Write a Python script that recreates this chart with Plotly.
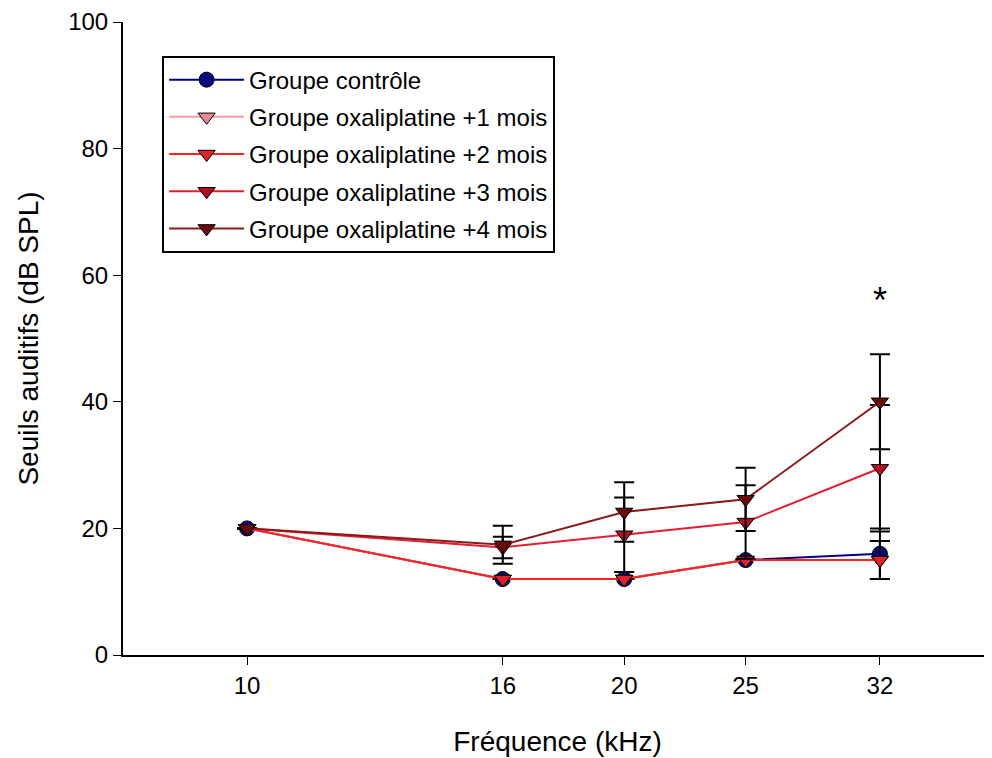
import numpy as np
import plotly.graph_objects as go

# fréquences (kHz)
frequences = [10, 16, 20, 25, 32]

# seuils moyens (dB SPL)
controle = [20, 12, 12, 15, 16]
oxa_1 = [20, 12, 12, 15, 15]
oxa_2 = [20, 12, 12, 15, 15]
oxa_3 = [20, 17, 19, 21, 29.5]
oxa_4 = [20, 17.4, 22.6, 24.6, 40]

# erreurs
err_controle = [0, 0, 0, 0, 4]
err_oxa_1 = [0, 0, 0, 0, 3]
err_oxa_2 = [0, 0, 0, 0, 3]
err_oxa_3 = [0, 1.7, 5.9, 5.8, 10]
err_oxa_4 = [0, 3, 4.7, 5, 7.5]

series = [
    ('Groupe contrôle', controle, err_controle, '#00007a', '#0a0a80', 'circle'),
    ('Groupe oxaliplatine +1 mois', oxa_1, err_oxa_1, '#ff9aa0', '#e88a90', 'triangle-down'),
    ('Groupe oxaliplatine +2 mois', oxa_2, err_oxa_2, '#ff2020', '#e0202a', 'triangle-down'),
    ('Groupe oxaliplatine +3 mois', oxa_3, err_oxa_3, '#e02030', '#b01020', 'triangle-down'),
    ('Groupe oxaliplatine +4 mois', oxa_4, err_oxa_4, '#8a1a1a', '#6a0a0a', 'triangle-down'),
]

fig = go.Figure()

for i, (nom, y, err, c_ligne, c_marq, symb) in enumerate(series):
    fig.add_trace(go.Scatter(
        x=frequences, y=y, name=nom, mode='lines+markers',
        legendgroup=str(i),
        line=dict(color=c_ligne, width=2),
        marker=dict(symbol=symb, size=15, color=c_marq,
                    line=dict(color='black', width=1)),
        error_y=dict(type='data', array=err, visible=True,
                     color='black', thickness=2, width=10),
    ))

# astérisque de significativité
fig.add_annotation(x=np.log10(32), y=56, text='*', showarrow=False,
                   font=dict(size=36, color='black'))

police = 'Liberation Sans, Arial, sans-serif'

fig.update_xaxes(
    type='log', range=[0.901, 1.5946],
    tickvals=frequences, ticktext=[str(f) for f in frequences],
    showline=True, linecolor='black', linewidth=2,
    ticks='outside', ticklen=8, tickcolor='black', tickwidth=1,
    showgrid=False, zeroline=False,
    tickfont=dict(size=24, color='black', family=police),
    title=dict(text='Fréquence (kHz)', font=dict(size=28, color='black', family=police),
               standoff=34),
)
fig.update_yaxes(
    range=[0, 100], tickvals=[0, 20, 40, 60, 80, 100],
    showline=True, linecolor='black', linewidth=2,
    ticks='outside', ticklen=8, tickcolor='black', tickwidth=1,
    showgrid=False, zeroline=False,
    tickfont=dict(size=24, color='black', family=police),
    title=dict(text='Seuils auditifs (dB SPL)', font=dict(size=28, color='black', family=police),
               standoff=21),
)

# la page ajoute une marge de 8 px autour de la figure
fig.update_layout(
    width=984, height=750,
    margin=dict(l=115, r=0, t=14, b=103),
    plot_bgcolor='white', paper_bgcolor='white',
    font=dict(family=police, color='black'),
    legend=dict(
        x=0.045, y=0.947, xanchor='left', yanchor='top',
        bordercolor='black', borderwidth=2, bgcolor='white',
        font=dict(size=24, color='black', family=police),
        itemwidth=75, tracegroupgap=3,
    ),
)

fig.write_html('out.html')
